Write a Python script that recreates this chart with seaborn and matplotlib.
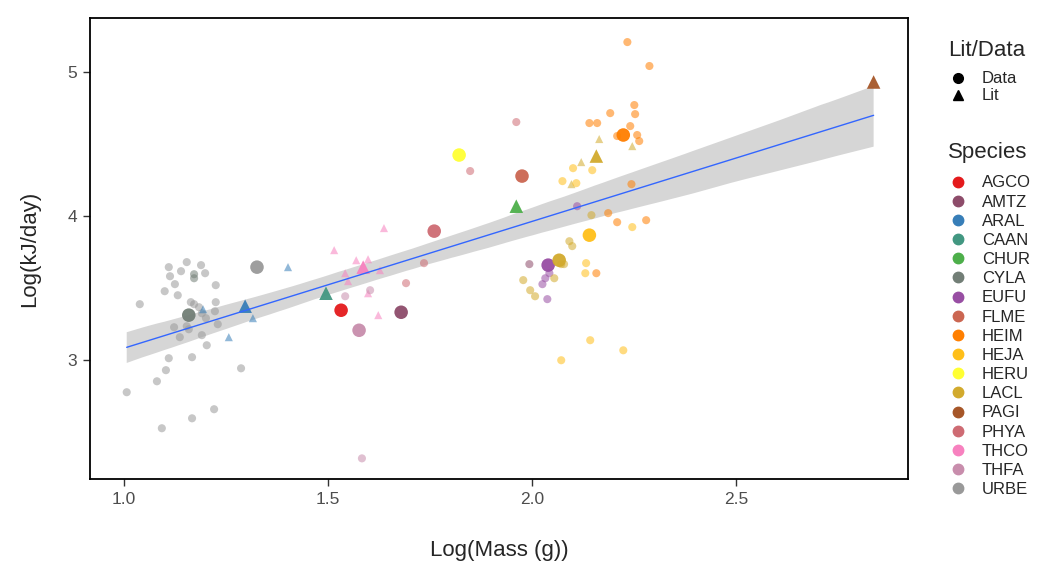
import matplotlib
matplotlib.use("Agg")
import matplotlib.pyplot as plt
import seaborn as sns
import pandas as pd
import numpy as np
from matplotlib.lines import Line2D

species_order = ["AGCO", "AMTZ", "ARAL", "CAAN", "CHUR", "CYLA", "EUFU", "FLME", "HEIM",
                 "HEJA", "HERU", "LACL", "PAGI", "PHYA", "THCO", "THFA", "URBE"]
palette_hex = ["#E41A1C", "#8D4C6A", "#377EB8", "#429781", "#4DAF4A", "#727E76", "#984EA3",
               "#CB6651", "#FF7F00", "#FFBF19", "#FFFF33", "#D2AA2D", "#A65628", "#CE6B73",
               "#F781BF", "#C88DAC", "#999999"]

# individual (small) points
small_species = (["URBE"] * 5 + ["CYLA"] * 2 + ["URBE"] * 29 + ["ARAL"] * 4 + ["THCO"] * 9 +
                 ["THFA"] * 3 + ["PHYA"] * 4 + ["AMTZ"] + ["EUFU"] * 5 + ["LACL"] * 9 +
                 ["LACL"] * 4 + ["HEJA"] * 10 + ["HEIM"] * 16)
small_source = (["Data"] * 36 + ["Lit"] * 4 + ["Lit"] * 9 + ["Data"] * 3 + ["Data"] * 4 +
                ["Data"] + ["Data"] * 5 + ["Data"] * 9 + ["Lit"] * 4 + ["Data"] * 10 +
                ["Data"] * 16)
small_mass = [1.110, 1.154, 1.189, 1.140, 1.113, 1.172, 1.172, 1.199, 1.125, 1.225,
              1.100, 1.132, 1.039, 1.164, 1.172, 1.184, 1.225, 1.223, 1.191, 1.201,
              1.230, 1.123, 1.154, 1.159, 1.137, 1.191, 1.203, 1.110, 1.167, 1.103,
              1.287, 1.081, 1.007, 1.221, 1.167, 1.093,
              1.402, 1.194, 1.316, 1.257,
              1.637, 1.515, 1.569, 1.598, 1.542, 1.627, 1.549, 1.598, 1.623,
              1.603, 1.542, 1.583,
              1.735, 1.691, 1.961, 1.848,
              1.993,
              2.110, 2.042, 2.032, 2.025, 2.037,
              2.145, 2.091, 2.098, 2.078, 2.071, 2.054, 1.978, 1.995, 2.007,
              2.164, 2.245, 2.120, 2.096,
              2.100, 2.147, 2.074, 2.108, 2.245, 2.132, 2.130, 2.142, 2.223, 2.071,
              2.233, 2.287, 2.250, 2.252, 2.191, 2.140, 2.159, 2.240, 2.208, 2.257,
              2.262, 2.243, 2.186, 2.208, 2.279, 2.157]
small_energy = [3.646, 3.681, 3.660, 3.618, 3.583, 3.597, 3.569, 3.604, 3.528, 3.521,
                3.479, 3.451, 3.389, 3.403, 3.389, 3.368, 3.403, 3.340, 3.326, 3.292,
                3.250, 3.229, 3.236, 3.215, 3.160, 3.174, 3.104, 3.014, 3.021, 2.931,
                2.944, 2.854, 2.778, 2.660, 2.597, 2.528,
                3.646, 3.354, 3.292, 3.160,
                3.917, 3.764, 3.694, 3.701, 3.604, 3.625, 3.549, 3.465, 3.313,
                3.486, 3.444, 2.319,
                3.674, 3.535, 4.653, 4.313,
                3.667,
                4.069, 3.604, 3.569, 3.528, 3.424,
                4.007, 3.826, 3.792, 3.667, 3.667, 3.569, 3.556, 3.486, 3.444,
                4.535, 4.486, 4.375, 4.222,
                4.333, 4.319, 4.243, 4.229, 3.924, 3.674, 3.604, 3.139, 3.069, 3.000,
                5.208, 5.042, 4.771, 4.708, 4.715, 4.646, 4.646, 4.625, 4.556, 4.563,
                4.521, 4.222, 4.021, 3.958, 3.972, 3.604]

# species-level (large) points
big_species = ["CYLA", "URBE", "ARAL", "THCO", "THFA", "PHYA", "FLME", "CAAN", "AGCO",
               "AMTZ", "CHUR", "HERU", "PAGI", "EUFU", "LACL", "LACL", "HEJA", "HEIM"]
big_source = ["Data", "Data", "Lit", "Lit", "Data", "Data", "Data", "Lit", "Data",
              "Data", "Lit", "Data", "Lit", "Data", "Data", "Lit", "Data", "Data"]
big_mass = [1.159, 1.326, 1.297, 1.586, 1.576, 1.760, 1.975, 1.495, 1.532,
            1.679, 1.961, 1.821, 2.836, 2.039, 2.066, 2.157, 2.140, 2.223]
big_energy = [3.313, 3.646, 3.375, 3.646, 3.208, 3.896, 4.278, 3.465, 3.347,
              3.333, 4.069, 4.424, 4.931, 3.660, 3.694, 4.417, 3.868, 4.563]

x_ticks = [1.0, 1.5, 2.0, 2.5]
y_ticks = [3, 4, 5]

small_df = pd.DataFrame({"Species": small_species, "Lit/Data": small_source,
                         "mass": small_mass, "energy": small_energy})
big_df = pd.DataFrame({"Species": big_species, "Lit/Data": big_source,
                       "mass": big_mass, "energy": big_energy})
all_df = pd.concat([small_df, big_df], ignore_index=True)

pal = dict(zip(species_order, palette_hex))
markers = {"Data": "o", "Lit": "^"}

sns.set_style("white")
plt.rcParams["font.family"] = ["Liberation Sans", "DejaVu Sans"]

fig = plt.figure(figsize=(10.4, 5.63), dpi=100)
ax = fig.add_axes([0.0865, 0.149, 0.7865, 0.819])

sns.regplot(data=all_df, x="mass", y="energy", scatter=False, ci=95, ax=ax,
            color="#3366FF", line_kws={"linewidth": 1.0}, truncate=True)
for coll in ax.collections:
    coll.set_facecolor("#999999")
    coll.set_alpha(0.4)
    coll.set_edgecolor("none")

sns.scatterplot(data=small_df, x="mass", y="energy", hue="Species", style="Lit/Data",
                palette=pal, markers=markers, hue_order=species_order,
                s=34, alpha=0.55, linewidth=0, ax=ax, legend=False)
sns.scatterplot(data=big_df, x="mass", y="energy", hue="Species", style="Lit/Data",
                palette=pal, markers=markers, hue_order=species_order,
                s=95, alpha=0.95, linewidth=0, ax=ax, legend=False)

ax.set_xlim(0.917, 2.92)
ax.set_ylim(2.175, 5.375)
ax.set_xticks(x_ticks)
ax.set_xticklabels([f"{v:.1f}" for v in x_ticks])
ax.set_yticks(y_ticks)
ax.set_yticklabels([str(v) for v in y_ticks])
ax.tick_params(axis="both", labelsize=12.5, labelcolor="#4D4D4D", color="#333333",
               length=5, width=1, direction="out", bottom=True, left=True, pad=4)
for sp in ax.spines.values():
    sp.set_visible(True)
    sp.set_color("black")
    sp.set_linewidth(1.3)
ax.set_xlabel("Log(Mass (g))", fontsize=16, labelpad=24)
ax.set_ylabel("Log(kJ/day)", fontsize=16, labelpad=20)

# legends
src_handles = [Line2D([], [], marker="o", color="black", linestyle="", markersize=7),
               Line2D([], [], marker="^", color="black", linestyle="", markersize=7.5)]
leg1 = fig.legend(src_handles, ["Data", "Lit"], title="Lit/Data", loc="upper left",
                  bbox_to_anchor=(0.9115, 0.929), frameon=False, fontsize=12,
                  title_fontsize=16, handletextpad=0.84, labelspacing=0.12,
                  borderaxespad=0, borderpad=0, handlelength=1.2)
leg1._legend_box.align = "left"
leg1._legend_box.sep = 7.5
sp_handles = [Line2D([], [], marker="o", color=c, linestyle="", markersize=7.5)
              for c in palette_hex]
leg2 = fig.legend(sp_handles, species_order, title="Species", loc="upper left",
                  bbox_to_anchor=(0.9115, 0.748), frameon=False, fontsize=12,
                  title_fontsize=16, handletextpad=0.84, labelspacing=0.25,
                  borderaxespad=0, borderpad=0, handlelength=1.2)
leg2._legend_box.align = "left"
leg2._legend_box.sep = 9.0

fig.savefig("out.png", dpi=100, facecolor="white")
